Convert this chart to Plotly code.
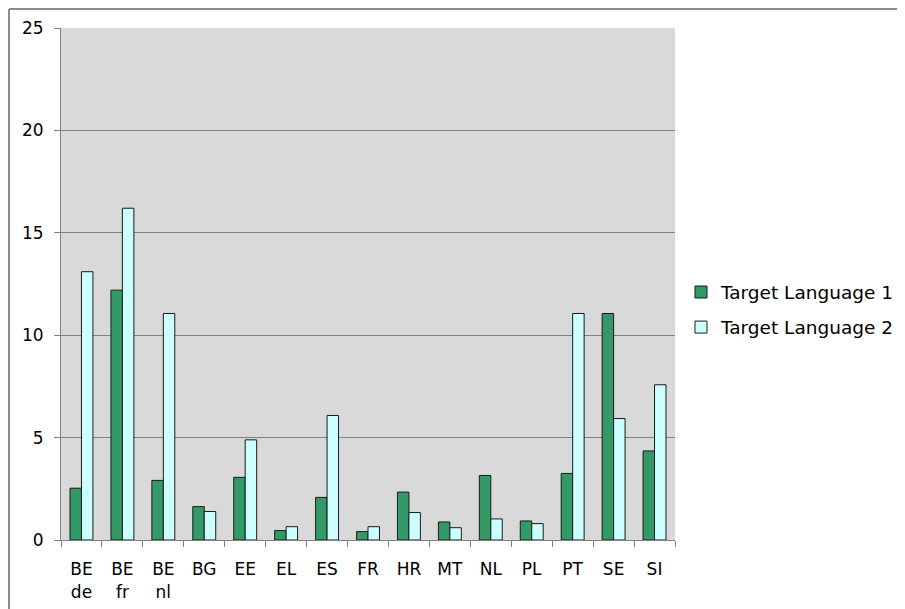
import plotly.graph_objects as go

categories = ["BE<br>de", "BE<br>fr", "BE<br>nl", "BG", "EE", "EL", "ES", "FR",
              "HR", "MT", "NL", "PL", "PT", "SE", "SI"]
target_language_1 = [2.53, 12.2, 2.91, 1.63, 3.06, 0.46, 2.08, 0.41,
                     2.34, 0.88, 3.15, 0.93, 3.25, 11.06, 4.35]
target_language_2 = [13.1, 16.2, 11.06, 1.39, 4.89, 0.65, 6.08, 0.65,
                     1.34, 0.60, 1.03, 0.80, 11.06, 5.93, 7.58]
y_ticks = [0, 5, 10, 15, 20, 25]

FONT = "DejaVu Sans"

fig = go.Figure()
fig.add_trace(go.Bar(
    x=categories, y=target_language_1, name="Target Language 1",
    legendgroup="a",
    marker=dict(color="#339966", line=dict(color="#1a1a1a", width=1)),
))
fig.add_trace(go.Bar(
    x=categories, y=target_language_2, name="Target Language 2",
    legendgroup="b",
    marker=dict(color="#ccffff", line=dict(color="#1a1a1a", width=1)),
))

# the page body has an 8px margin; compensate so the figure fills the window
OFF = 8
W, H = 905 - OFF, 609 - OFF
L, R, T, B = 61 - OFF, 230, 28 - OFF, 69
pw, ph = W - L - R, H - T - B
# outer frame lines (top and left edges of the original chart frame)
bx = (1 - L) / pw
by = 1 + (T - 1) / ph

fig.update_layout(
    width=W, height=H,
    margin=dict(l=L, r=R, t=T, b=B, pad=0, autoexpand=False),
    paper_bgcolor="white",
    plot_bgcolor="#d9d9d9",
    barmode="group",
    bargap=0.44,
    bargroupgap=0,
    font=dict(family=FONT, size=17, color="black"),
    showlegend=True,
    legend=dict(
        x=(681 - 61) / pw, xanchor="left", y=(540 - 310) / ph, yanchor="middle",
        font=dict(family=FONT, size=18.5, color="black"),
        bgcolor="rgba(0,0,0,0)",
        tracegroupgap=8,
        itemwidth=30,
    ),
    xaxis=dict(
        type="category",
        showgrid=False,
        showline=True, linecolor="#808080", linewidth=1,
        ticks="outside", tickson="boundaries", ticklen=6, tickcolor="#808080",
        tickfont=dict(family=FONT, size=17, color="black"),
        ticklabelstandoff=14,
        tickangle=0,
    ),
    yaxis=dict(
        range=[0, 25], tickvals=y_ticks, ticktext=[str(v) for v in y_ticks],
        showgrid=True, gridcolor="#808080", gridwidth=1,
        showline=True, linecolor="#808080", linewidth=1,
        ticks="outside", ticklen=6, tickcolor="#808080",
        tickfont=dict(family=FONT, size=17, color="black"),
        ticklabelstandoff=7,
        zeroline=False,
    ),
    shapes=[
        dict(type="line", xref="paper", yref="paper", x0=bx, x1=bx, y0=by, y1=-0.3,
             line=dict(color="#8c8c8c", width=2)),
        dict(type="line", xref="paper", yref="paper", x0=bx, x1=1.5, y0=by, y1=by,
             line=dict(color="#8c8c8c", width=2)),
    ],
)

fig.write_html("out.html")
